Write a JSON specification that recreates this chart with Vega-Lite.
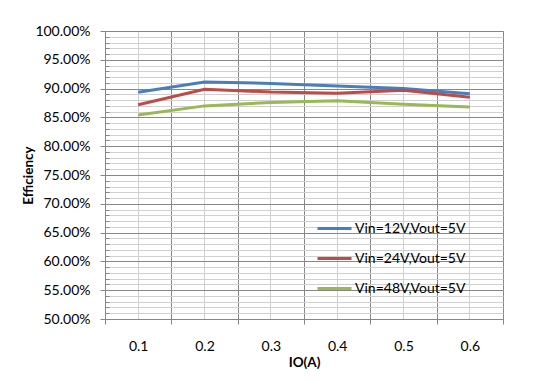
{
  "$schema": "https://vega.github.io/schema/vega-lite/v6.json",
  "width": 398,
  "height": 288,
  "autosize": {"type": "none"},
  "padding": {"left": 105, "top": 31, "right": 48, "bottom": 67},
  "background": "white",
  "config": {
    "font": "Lato",
    "view": {"stroke": "#878787", "strokeWidth": 1}
  },
  "data": {
    "values": [
      {"io": "0.1", "series": "Vin=12V,Vout=5V", "eff": 0.8936},
      {"io": "0.2", "series": "Vin=12V,Vout=5V", "eff": 0.9115},
      {"io": "0.3", "series": "Vin=12V,Vout=5V", "eff": 0.9090},
      {"io": "0.4", "series": "Vin=12V,Vout=5V", "eff": 0.9045},
      {"io": "0.5", "series": "Vin=12V,Vout=5V", "eff": 0.9000},
      {"io": "0.6", "series": "Vin=12V,Vout=5V", "eff": 0.8910},
      {"io": "0.1", "series": "Vin=24V,Vout=5V", "eff": 0.8720},
      {"io": "0.2", "series": "Vin=24V,Vout=5V", "eff": 0.8990},
      {"io": "0.3", "series": "Vin=24V,Vout=5V", "eff": 0.8940},
      {"io": "0.4", "series": "Vin=24V,Vout=5V", "eff": 0.8920},
      {"io": "0.5", "series": "Vin=24V,Vout=5V", "eff": 0.8970},
      {"io": "0.6", "series": "Vin=24V,Vout=5V", "eff": 0.8850},
      {"io": "0.1", "series": "Vin=48V,Vout=5V", "eff": 0.8540},
      {"io": "0.2", "series": "Vin=48V,Vout=5V", "eff": 0.8700},
      {"io": "0.3", "series": "Vin=48V,Vout=5V", "eff": 0.8760},
      {"io": "0.4", "series": "Vin=48V,Vout=5V", "eff": 0.8790},
      {"io": "0.5", "series": "Vin=48V,Vout=5V", "eff": 0.8730},
      {"io": "0.6", "series": "Vin=48V,Vout=5V", "eff": 0.8680}
    ]
  },
  "layer": [
    {
      "mark": {"type": "line", "opacity": 0},
      "encoding": {
        "x": {
          "field": "io", "type": "ordinal",
          "scale": {"paddingInner": 0, "paddingOuter": 0},
          "axis": {"orient": "bottom", "grid": true, "gridColor": "#d0d0d0", "gridWidth": 1, "labels": false, "ticks": false, "domain": false, "title": null}
        },
        "y": {
          "field": "eff", "type": "quantitative",
          "scale": {"domain": [0.5, 1], "nice": false, "zero": false},
          "axis": {
            "values": [0.5,0.51,0.52,0.53,0.54,0.55,0.56,0.57,0.58,0.59,0.6,0.61,0.62,0.63,0.64,0.65,0.66,0.67,0.68,0.69,0.7,0.71,0.72,0.73,0.74,0.75,0.76,0.77,0.78,0.79,0.8,0.81,0.82,0.83,0.84,0.85,0.86,0.87,0.88,0.89,0.9,0.91,0.92,0.93,0.94,0.95,0.96,0.97,0.98,0.99,1.0],
            "grid": true, "gridColor": "#d0d0d0", "gridWidth": 1,
            "labels": false, "ticks": true, "tickSize": -4, "tickColor": "#878787", "domain": false, "title": null, "orient": "left"
          }
        }
      }
    },
    {
      "mark": {"type": "line", "strokeWidth": 3},
      "encoding": {
        "x": {
          "field": "io", "type": "ordinal",
          "axis": {
            "orient": "bottom",
            "tickBand": "extent", "grid": true, "gridColor": "#878787", "gridWidth": 1,
            "ticks": true, "tickSize": 5, "tickColor": "#878787",
            "domain": true, "domainColor": "#878787",
            "labelAngle": 0, "labelFontSize": 14, "labelColor": "#000000", "labelPadding": 15, "labelBaseline": "top",
            "title": "IO(A)", "titleFontSize": 13.5, "titleFontWeight": "bold", "titleColor": "#000000",
            "titleY": 43, "titleBaseline": "middle"
          }
        },
        "y": {
          "field": "eff", "type": "quantitative",
          "axis": {
            "values": [0.5,0.55,0.6,0.65,0.7,0.75,0.8,0.85,0.9,0.95,1.0],
            "format": ".2%",
            "grid": true, "gridColor": "#878787", "gridWidth": 1,
            "ticks": true, "tickSize": 5, "tickColor": "#878787",
            "domain": true, "domainColor": "#878787",
            "labelFontSize": 14, "labelColor": "#000000", "labelPadding": 10,
            "title": "Efficiency", "titleFontSize": 13.5, "titleFontWeight": "bold", "titleColor": "#000000",
            "titleX": -77, "titleBaseline": "middle", "orient": "left"
          }
        },
        "color": {
          "field": "series", "type": "nominal",
          "scale": {"domain": ["Vin=12V,Vout=5V", "Vin=24V,Vout=5V", "Vin=48V,Vout=5V"], "range": ["#4A7EBB", "#BE4B48", "#98B954"]},
          "legend": {
            "title": null, "orient": "none", "legendX": 211, "legendY": 179,
            "symbolType": "stroke", "symbolSize": 1156, "symbolStrokeWidth": 3,
            "labelFontSize": 14, "labelColor": "#000000", "labelOffset": 2, "rowPadding": 4
          }
        }
      }
    }
  ],
  "resolve": {"axis": {"x": "independent", "y": "independent"}}
}
